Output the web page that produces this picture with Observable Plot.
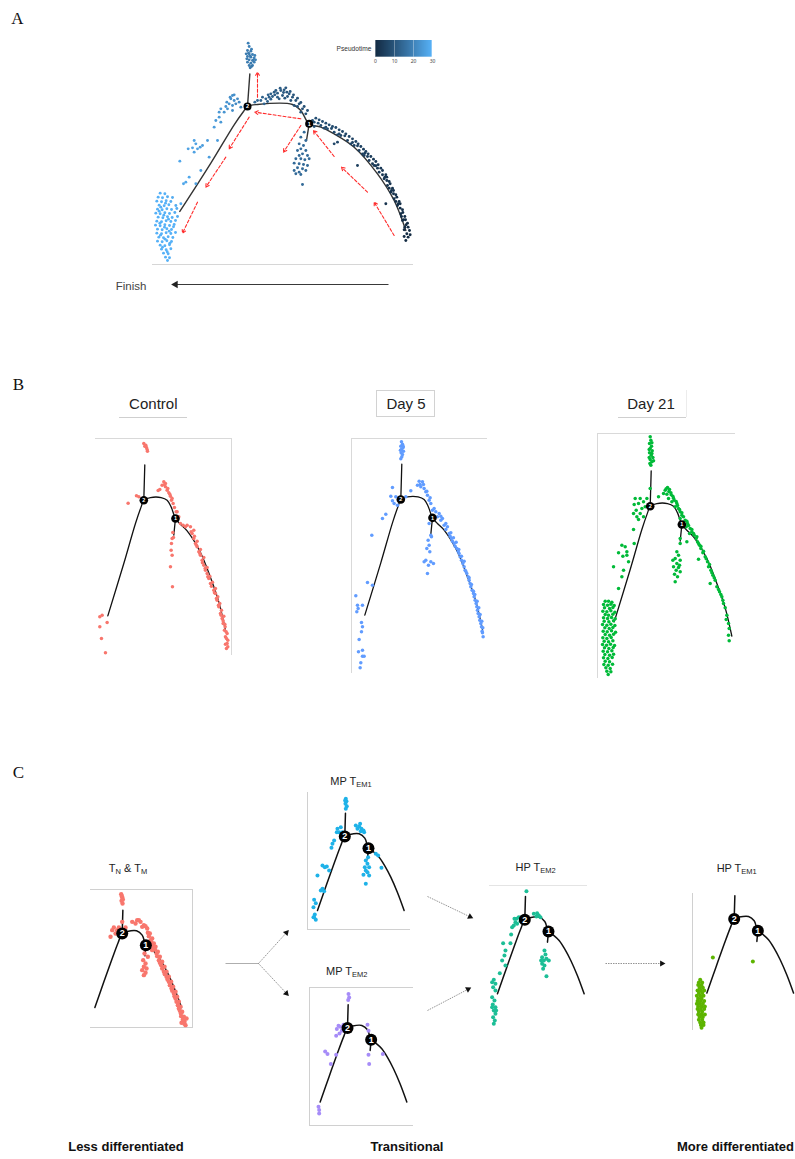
<!DOCTYPE html>
<html><head><meta charset="utf-8">
<script src="https://cdn.jsdelivr.net/npm/d3@7"></script>
<script src="https://cdn.jsdelivr.net/npm/@observablehq/plot@0.6"></script>
<style>
body{margin:0;background:#fff;}
#page{position:relative;width:795px;height:1159px;overflow:hidden;font-family:"Liberation Sans",Arial,sans-serif;color:#111;}
.abs{position:absolute;}
.letter{font-family:"Liberation Serif","Times New Roman",serif;font-size:17px;color:#111;}
.btitle{font-size:15px;color:#222;}
.ctitle{font-size:11px;color:#222;}
.ctitle sub{font-size:7.5px;vertical-align:-2px;line-height:0;}
.bottom{font-size:13px;font-weight:bold;color:#111;}
</style></head><body><div id="page"></div><script>
// ---------------- DATA ----------------
// Trajectory backbones (component units, node 2 at origin)
const trajectoryA = {
  main: [[-203,-315],[-110,-170],[-40,-55],[-12,-15],[0,0],[30,6],[135,6],[160,-12],[185,-52],[220,-62],[260,-82],[320,-122],[390,-202],[440,-282],[475,-372]],
  top: [[0,0],[7,98]],
  branch: [[185,-52],[177,-102]]
};
const nodesA = [{label:"2",x:0,y:0},{label:"1",x:185,y:-52}];
const trajectoryB = {
  main: [[-108,-347],[-60,-190],[-25,-70],[-8,-20],[0,0],[20,8],[52,8],[70,0],[82,-20],[95,-55],[110,-72],[130,-92],[170,-157],[200,-232],[225,-305],[245,-390]],
  top: [[0,0],[3,106]],
  branch: [[95,-55],[90,-105]]
};
const nodesB = [{label:"2",x:0,y:0},{label:"1",x:95,y:-55}];
const trajectoryC = {
  main: [[-82,-222],[-55,-145],[-30,-75],[-12,-27],[0,0],[15,6],[43,8],[60,-5],[71,-35],[85,-45],[103,-62],[120,-88],[138,-122],[158,-168],[178,-222]],
  top: [[0,0],[2,70]],
  branch: [[71,-35],[68,-67]]
};
const nodesC = [{label:"2",x:0,y:0},{label:"1",x:71,y:-35}];

// Panel A cells: [component1, component2, pseudotime]
const cellsA = [
  // upper branch tip
  [2,190,20],[5,180,20],[0,168,19],[10,166,19],[5,158,19],[15,156,20],[0,150,19],[10,148,19],[20,146,20],[5,140,19],[15,138,19],[0,133,19],[10,130,19],[20,133,20],[5,123,19],[15,123,19],[8,116,18],[-2,143,19],[22,153,20],[12,172,20],[3,160,19],[18,140,19],[8,152,19],[-4,158,19],[24,140,20],[12,120,18],
  // left branch scattered
  [-45,33,23],[-50,23,23],[-40,18,23],[-30,23,22],[-35,8,22],[-25,13,22],[-55,8,24],[-45,3,23],[-62,13,24],[-60,-7,24],[-80,-7,25],[-85,-17,25],[-70,-17,24],[-45,-12,23],[-20,-2,21],[-95,-42,25],[-85,-32,25],[-80,-47,25],[-100,-62,26],[-90,-102,26],[-160,-102,27],[-155,-112,27],[-165,-124,27],[-150,-127,27],[-142,-122,26],[-135,-117,26],[-178,-127,27],[-160,-137,27],[-115,-152,26],[-120,-102,26],[-203,-164,28],[-185,-227,28],[-192,-232,28],[-155,-232,27],[-175,-212,28],[-140,-192,27],[-200,-292,29],[-40,35,23],[-52,28,23],[-65,0,24],
  // bottom-left tip
  [-262,-260,30],[-248,-262,30],[-268,-272,30],[-255,-274,30],[-240,-271,29],[-225,-273,29],[-272,-284,30],[-258,-286,30],[-244,-283,30],[-230,-285,29],[-265,-296,30],[-250,-298,30],[-236,-295,30],[-215,-297,29],[-270,-308,30],[-256,-310,30],[-242,-307,30],[-228,-309,30],[-212,-306,29],[-275,-320,30],[-262,-322,30],[-248,-319,30],[-234,-321,30],[-218,-318,29],[-268,-332,30],[-254,-334,30],[-240,-331,30],[-226,-333,30],[-210,-330,29],[-272,-344,30],[-258,-346,30],[-244,-343,30],[-230,-345,30],[-216,-342,30],[-276,-356,30],[-262,-358,30],[-248,-355,30],[-234,-357,30],[-220,-354,30],[-270,-368,30],[-256,-370,30],[-242,-367,30],[-228,-369,30],[-272,-380,30],[-258,-382,30],[-244,-379,30],[-230,-381,30],[-216,-378,30],[-266,-392,30],[-252,-394,30],[-238,-391,30],[-224,-393,30],[-270,-404,30],[-256,-406,30],[-242,-403,30],[-228,-405,30],[-262,-416,30],[-248,-418,30],[-234,-415,30],[-258,-428,30],[-244,-430,30],[-230,-427,30],[-252,-440,30],[-238,-442,30],[-246,-452,30],[-234,-454,30],[-240,-462,30],
  [-265,-314,30],[-251,-326,30],[-237,-338,30],[-263,-350,30],[-249,-362,30],[-235,-374,30],[-261,-386,30],[-247,-398,30],[-233,-410,30],[-255,-422,30],[-241,-436,30],[-260,-302,30],[-246,-290,30],[-222,-361,30],
  // branch below node 1
  [170,-77,15],[160,-92,15],[175,-102,15],[155,-112,15],[168,-117,15],[160,-127,15],[150,-132,15],[175,-132,15],[165,-142,15],[155,-147,15],[180,-147,15],[145,-157,15],[160,-157,15],[172,-160,15],[185,-157,15],[140,-170,15],[155,-172,15],[168,-174,15],[180,-177,15],[150,-184,15],[165,-187,15],[140,-192,15],[155,-197,15],[145,-202,15],[160,-204,15],[165,-234,15],[175,-192,15],
  // between the two nodes
  [40,18,14],[55,23,13],[65,28,13],[70,38,13],[80,43,12],[90,40,12],[100,48,12],[110,50,11],[118,43,11],[125,38,11],[135,28,10],[145,18,10],[155,8,10],[165,-7,9],[175,-22,9],[105,33,11],[95,23,12],[130,18,10],[140,3,10],[160,-17,9],[115,56,11],[90,28,12],[50,8,14],[22,13,15],[75,30,12],[120,30,11],[150,0,10],[60,15,13],
  [30,18,14],[45,28,13],[62,35,13],[85,48,12],[98,55,12],[108,42,11],[128,45,11],[138,35,10],[150,25,10],[160,12,10],[170,0,9],[180,-12,9],[112,25,11],[82,35,12],[70,22,13],
  // root branch
  [200,-47,9],[220,-57,8.5],[240,-67,8],[260,-77,7.5],[280,-87,7],[300,-102,6.5],[320,-117,6],[335,-132,5.5],[350,-147,5],[365,-162,4.5],[380,-177,4],[395,-197,3.5],[410,-217,3],[420,-237,2.5],[430,-257,2],[440,-277,1.5],[450,-297,1.2],[460,-322,1],[465,-342,0.7],[472,-362,0.5],[478,-382,0.2],[475,-402,0],
  [205,-35,9],[225,-45,8.5],[245,-55,8],[265,-63,7.5],[285,-75,7],[305,-90,6.5],[325,-105,6],[340,-120,5.5],[355,-135,5],[370,-150,4.5],[385,-165,4],[400,-185,3.5],[415,-205,3],[425,-225,2.5],[435,-245,2],[445,-265,1.5],[455,-285,1.2],[465,-310,1],[472,-330,0.7],[480,-350,0.5],[486,-372,0.2],
  [230,-65,8],[270,-85,7],[310,-112,6],[345,-142,5],[375,-172,4],[405,-205,3],[425,-245,2],[445,-285,1.5],[462,-330,1],[470,-370,0.3],
  [212,-50,9],[252,-66,8],[292,-88,7],[330,-118,6],[360,-150,5],[390,-185,4],[418,-222,3],[438,-262,2],[458,-305,1],[476,-355,0.4],
  [195,-42,9.2],[215,-40,8.8],[235,-50,8.3],[255,-60,7.8],[275,-70,7.3],[295,-82,6.8],[315,-97,6.3],[332,-112,5.8],[348,-128,5.3],[362,-142,4.8],[378,-158,4.3],[392,-175,3.8],[405,-192,3.3],[418,-212,2.8],[428,-232,2.3],[438,-252,1.8],[448,-272,1.4],[458,-292,1.1],[466,-318,0.9],[474,-340,0.6],[482,-362,0.3],[482,-392,0.1],[470,-390,0.1],[488,-385,0],
  [235,-62,8.2],[275,-82,7.2],[315,-108,6.2],[352,-140,5.2],[385,-178,4.1],[412,-212,3.1],[432,-252,2.1],[452,-292,1.2],[468,-340,0.6],
  [260,-112,7],[270,-107,7],[330,-177,5],[415,-292,2],[200,-60,9]
];
// Panel A state-transition arrows
const transitionsA = [
  [30,28,30,103],[160,-37,22,-17],[5,-32,-55,-127],[-65,-152,-125,-242],[-150,-287,-195,-380],
  [160,-57,108,-137],[440,-387,380,-287],[360,-257,282,-182],[260,-150,198,-72]
];
const pseudotimeTicks = [0,10,20,30];

// Panel B cells: [component1, component2]
const controlCells = [
  [0,170],[6,165],[8,158],[11,147],[3,162],[10,152],
  [-22,13],[-47,-9],[-15,10],
  [60,55],[65,50],[55,45],[48,32],[43,29],[65,40],[70,30],[75,22],[80,12],[83,0],[88,-10],[92,-22],[97,-35],[62,46],[72,35],[85,5],[78,18],
  [87,-97],[85,-115],[83,-130],[82,-150],[85,-165],[80,-200],[86,-260],[89,-112],
  [100,-35],[110,-70],[130,-75],[140,-80],[145,-100],[150,-115],[155,-130],[160,-140],[165,-155],[170,-165],[175,-180],[180,-195],[185,-210],[190,-220],[195,-235],[200,-250],[210,-270],[215,-280],[220,-300],[225,-320],[230,-340],[235,-355],[238,-370],[242,-390],[245,-410],[250,-430],[248,-445],
  [118,-75],[150,-90],[160,-123],[170,-148],[180,-172],[190,-202],[198,-228],[206,-246],[215,-265],[222,-290],[228,-310],[233,-330],[240,-348],[244,-380],[250,-400],[252,-420],
  [105,-50],[125,-80],[142,-95],[152,-108],[158,-135],[168,-160],[176,-188],[184,-205],[192,-230],[203,-258],[212,-278],[218,-295],[224,-315],[232,-345],[238,-362],[243,-372],[247,-395],[248,-415],[252,-440],[245,-432],
  [-132,-350],[-125,-345],[-110,-367],[-132,-380],[-127,-415],[-115,-458]
];
const day5Cells = [
  [2,173],[5,166],[0,160],[7,156],[2,150],[8,145],[1,140],[5,135],[3,128],[0,122],[7,160],[-1,148],
  [-25,36],[-30,10],[-15,8],[-20,-12],[-10,-17],[-25,-4],[-45,-44],[-55,-57],[30,26],[15,8],
  [55,55],[65,53],[50,43],[60,38],[70,33],[75,23],[80,13],[85,-2],[90,-12],[100,-27],[105,-37],[110,-52],[120,-62],[130,-77],[135,-90],[145,-102],[152,-117],[160,-132],[168,-147],[175,-162],[182,-182],[190,-202],[198,-222],[205,-242],[210,-262],[218,-282],[223,-302],[228,-322],[232,-342],[237,-362],[242,-382],[247,-412],
  [95,-32],[115,-42],[125,-57],[140,-82],[148,-110],[155,-125],[163,-140],[172,-155],[178,-172],[186,-192],[193,-212],[202,-232],[208,-252],[214,-272],[220,-292],[226,-312],[230,-332],[235,-352],[240,-372],[244,-395],[58,45],[68,45],[78,25],[88,5],
  [120,-50],[135,-72],[150,-100],[158,-115],[166,-128],[174,-150],[182,-170],[190,-185],[195,-215],[205,-235],[212,-255],[218,-275],[222,-285],[229,-305],[234,-325],[238,-345],[243,-365],[246,-385],[245,-400],
  [90,-107],[82,-122],[85,-137],[78,-147],[87,-157],[75,-182],[90,-187],[83,-197],[98,-192],[80,-222],[70,-187],[92,-112],[85,-72],
  [-87,-107],[-100,-249],[-85,-257],[-135,-289],[-130,-317],[-128,-327],[-115,-317],[-132,-337],[-118,-369],[-115,-382],[-118,-397],[-125,-420],[-127,-457],[-115,-470],[-110,-470],[-120,-490],[-122,-505],[-115,-452]
];
const day21Cells = [
  [0,208],[2,198],[-2,188],[4,180],[0,173],[6,166],[-2,160],[3,153],[8,146],[0,140],[5,133],[-1,128],[2,123],[5,158],[-3,146],[10,136],[5,190],[-3,170],
  [-45,23],[-30,23],[-35,8],[-20,13],[-42,-12],[-30,-22],[-40,-32],[-25,-7],[-15,-2],[-50,-22],[-35,-40],[-10,23],[0,53],[25,28],[-20,-32],[-48,5],
  [45,48],[52,56],[58,50],[40,38],[50,36],[62,40],[68,30],[55,23],[72,18],[65,13],[80,8],[75,-2],[85,-7],[90,-17],[95,-27],[90,-37],[105,-42],[112,-52],[108,-62],[120,-67],[125,-77],[118,-82],[132,-87],[138,-97],[142,-107],[148,-117],[152,-127],[145,-159],[158,-140],[165,-152],[172,-167],[175,-182],[182,-192],[188,-207],[180,-232],[195,-222],[200,-242],[208,-257],[215,-272],[220,-292],[230,-327],[235,-352],[237,-367],[235,-387],[237,-404],[110,-107],[90,-97],
  [48,52],[56,44],[63,34],[70,24],[78,14],[82,2],[88,-10],[95,-20],[100,-32],[110,-45],[115,-58],[125,-70],[130,-82],[140,-92],[145,-112],[152,-120],[160,-135],[168,-158],[178,-175],[185,-200],[192,-215],[205,-250],[212,-265],[218,-282],[225,-305],[228,-340],
  [90,-112],[80,-137],[85,-147],[75,-157],[90,-162],[80,-172],[70,-182],[85,-184],[78,-192],[90,-197],[73,-204],[82,-212],[75,-227],[88,-177],[68,-162],
  [-50,-70],[-48,-112],[-85,-117],[-75,-122],[-70,-137],[-95,-140],[-82,-150],[-65,-167],[-110,-182],[-80,-192],[-95,-247],[-85,-212],[-70,-147],
  [-135,-285],[-125,-285],[-115,-288],[-140,-295],[-128,-297],[-118,-294],[-108,-298],[-137,-305],[-122,-307],[-112,-304],[-142,-315],[-130,-317],[-118,-314],[-106,-318],[-135,-325],[-125,-327],[-112,-324],[-140,-335],[-128,-337],[-116,-334],[-105,-338],[-138,-345],[-124,-347],[-110,-344],[-143,-355],[-130,-357],[-118,-354],[-106,-358],[-136,-365],[-123,-367],[-112,-364],[-141,-375],[-129,-377],[-116,-374],[-104,-378],[-135,-385],[-122,-387],[-110,-384],[-142,-395],[-130,-397],[-117,-394],[-138,-405],[-125,-407],[-112,-404],[-143,-415],[-131,-417],[-119,-414],[-107,-418],[-137,-425],[-124,-427],[-111,-424],[-141,-435],[-128,-437],[-115,-434],[-136,-445],[-122,-447],[-110,-444],[-140,-455],[-127,-457],[-114,-454],[-135,-465],[-122,-467],[-139,-475],[-126,-477],[-113,-474],[-133,-485],[-120,-487],[-130,-495],[-118,-497],[-126,-505]
];

// Panel C cells
const tnTmCells = [
  [-3,118],[0,108],[-2,98],[1,90],[-1,112],[2,102],
  [-25,18],[-15,10],[0,35],[-20,0],[-35,-10],[-10,18],[10,18],[-30,10],
  [30,35],[45,40],[55,35],[65,25],[75,15],[83,0],[90,-15],[95,-30],[100,-40],[107,-55],[113,-70],[120,-85],[127,-100],[133,-115],[140,-130],[147,-145],[153,-160],[160,-175],[165,-190],[170,-205],[175,-220],[180,-235],[185,-250],[187,-265],[190,-275],
  [40,30],[60,20],[77,2],[85,-20],[93,-40],[103,-60],[110,-80],[117,-95],[125,-115],[133,-130],[140,-145],[148,-165],[155,-180],[160,-195],[167,-215],[173,-232],[177,-248],[183,-262],[178,-268],[193,-255],
  [50,40],[70,22],[80,-8],[88,-28],[98,-48],[105,-68],[113,-88],[120,-105],[128,-122],[136,-138],[143,-155],[150,-172],[157,-188],[163,-205],[170,-225],[176,-240],[182,-258],[186,-270],
  [67,-60],[63,-80],[70,-90],[65,-100],[73,-105],[60,-110],[70,-118],[65,-125],[77,-70],[90,-50],[77,-40]
];
const mpTem1Cells = [
  [3,113],[5,106],[2,98],[6,91],[3,83],[1,108],
  [-22,23],[-17,13],[-12,28],[-7,13],[-24,13],
  [33,33],[43,30],[50,23],[56,18],[48,16],[38,23],[46,38],[58,13],
  [93,-52],[100,-57],[110,-94],
  [63,-72],[68,-82],[60,-92],[73,-92],[63,-102],[68,-107],[56,-115],[73,-117],[63,-142],[70,-62],
  [-32,-12],[-40,-34],[-37,-22],[-67,-87],[-60,-92],[-54,-90],[-47,-102],[-82,-117],[-72,-162],[-62,-164],[-67,-157],[-92,-190],[-87,-200],[-94,-212],[-90,-234],[-92,-242],[-87,-250],[-94,-242]
];
const mpTem2Cells = [
  [3,102],[5,92],[2,84],
  [-32,-3],[-22,4],[-17,-8],[-34,-23],[-24,-16],[-12,10],[-27,7],
  [60,10],[63,-8],[73,-26],
  [63,-80],[65,-108],
  [106,-78],
  [-67,-70],[-60,-78],[-34,-80],[-50,-108],[-87,-236],[-85,-246],[-85,-256]
];
const hpTem2Cells = [
  [5,86],
  [-25,3],[-18,8],[-28,-7],[-33,-17],[-38,-22],[-23,-12],[-13,-4],[-31,3],
  [27,18],[37,20],[42,13],[35,10],[47,8],
  [59,-92],[62,-104],[52,-112],[57,-122],[65,-117],[52,-132],[59,-137],[55,-147],[72,-122],[49,-122],[65,-169],
  [-41,-44],[-43,-70],[-65,-70],[-58,-92],[-61,-107],[-68,-122],[-58,-137],[-75,-160],[-93,-180],[-98,-187],[-88,-192],[-95,-202],[-88,-212],[-98,-232],[-91,-242],[-96,-254],[-88,-262],[-93,-272],[-88,-282],[-95,-292],[-90,-302],[-93,-312],[-86,-272],[-98,-262]
];
const hpTem1Cells = [
  [-64,-115],[56,-127],
  [-102,-182],[-106,-190],[-96,-190],[-108,-198],[-98,-198],[-104,-206],[-94,-206],[-110,-214],[-100,-214],[-90,-214],[-106,-222],[-96,-222],[-112,-230],[-102,-230],[-92,-230],[-108,-238],[-98,-238],[-110,-246],[-100,-246],[-90,-246],[-112,-254],[-104,-254],[-94,-254],[-108,-262],[-98,-262],[-88,-262],[-110,-270],[-100,-270],[-90,-270],[-106,-278],[-96,-278],[-108,-286],[-98,-286],[-88,-286],[-104,-294],[-94,-294],[-106,-302],[-96,-302],[-102,-310],[-92,-310],[-100,-318],[-92,-318],[-98,-326]
];

const groupColors = {
  Control: "#F8766D", "Day 5": "#619CFF", "Day 21": "#00BA38",
  TnTm: "#F8766D", MpTem1: "#1EB2E8", MpTem2: "#A68CF8", HpTem2: "#1CBE96", HpTem1: "#5DB400"
};

// ---------------- LAYOUT ----------------
const layout = {
  A:      {left:151.7, top:30,    right:413.3, bottom:265,    nx:246.7, ny:106},
  Control:{left:95,    top:438.3, right:231.7, bottom:655,    nx:143.3, ny:500},
  Day5:   {left:350.7, top:438.3, right:486.7, bottom:673,    nx:400,   ny:499.3},
  Day21:  {left:597.3, top:433.3, right:735,   bottom:678,    nx:650,   ny:506},
  TnTm:   {left:90,    top:889.3, right:192.7, bottom:1028.3, nx:121.7, ny:933.3},
  MpTem1: {left:306.7, top:792,   right:410,   bottom:930,    nx:344,   ny:836},
  MpTem2: {left:309.3, top:986.7, right:413,   bottom:1126,   nx:347.3, ny:1027.3},
  HpTem2: {left:489,   top:885,   right:587,   bottom:1030,   nx:524.3, ny:919.3},
  HpTem1: {left:692.3, top:892.7, right:795,   bottom:1030,   nx:734,   ny:918.3}
};

const page = document.getElementById("page");
function addText(html, cx, cy, cls, style) {
  const d = document.createElement("div");
  d.className = "abs " + (cls || "");
  d.innerHTML = html;
  Object.assign(d.style, {left: cx + "px", top: cy + "px", transform: "translate(-50%,-50%)", whiteSpace: "nowrap", lineHeight: "1"}, style || {});
  page.appendChild(d);
  return d;
}
function addBox(l, t, w, h, style) {
  const d = document.createElement("div");
  d.className = "abs";
  Object.assign(d.style, {left: l + "px", top: t + "px", width: w + "px", height: h + "px", boxSizing: "border-box"}, style || {});
  page.appendChild(d);
  return d;
}
function toPath(traj) {
  const out = [];
  for (const [branch, pts] of Object.entries(traj)) for (const [x, y] of pts) out.push({branch, x, y});
  return out;
}
const pseudoColor = {type: "linear", domain: [0, 30], range: ["#132B43", "#56B1F7"], interpolate: d3.interpolateLab};

function drawPanel(L, cells, fill, traj, nodes, o) {
  const w = L.right - L.left, h = L.bottom - L.top;
  if (o.border) addBox(L.left, L.top, w, h, o.border);
  const el = Plot.plot({
    width: w, height: h, margin: 0,
    x: {domain: [(L.left - L.nx) * 3, (L.right - L.nx) * 3], axis: null},
    y: {domain: [(L.ny - L.bottom) * 3, (L.ny - L.top) * 3], axis: null},
    color: pseudoColor,
    style: {background: "transparent", overflow: "visible"},
    marks: [
      Plot.line(toPath(traj), {x: "x", y: "y", z: "branch", curve: "catmull-rom", stroke: o.lineColor || "#111", strokeWidth: o.lineWidth || 1.3}),
      Plot.dot(cells, {x: d => d[0], y: d => d[1], r: o.r, fill: fill, stroke: "none"}),
      Plot.dot(nodes, {x: "x", y: "y", r: o.nodeR, fill: "#000"}),
      Plot.text(nodes, {x: "x", y: "y", text: "label", fill: "#fff", fontSize: o.nodeFont, fontWeight: "bold", fontFamily: "Liberation Sans, Arial, sans-serif"})
    ]
  });
  const holder = addBox(L.left, L.top, w, h, {});
  holder.appendChild(el);
}

// ---------------- PANEL A ----------------
addText("A", 17.5, 18, "letter");
drawPanel(layout.A, cellsA, d => d[2], trajectoryA, nodesA, {
  r: 1.45, nodeR: 4, nodeFont: 5.5, lineColor: "#333", lineWidth: 1.4,
  border: {borderBottom: "1px solid #d6d6d6"}
});
// red arrows overlay in A's coordinate system
(function(){
  const L = layout.A, w = L.right - L.left, h = L.bottom - L.top;
  const el = Plot.plot({
    width: w, height: h, margin: 0,
    x: {domain: [(L.left - L.nx) * 3, (L.right - L.nx) * 3], axis: null},
    y: {domain: [(L.ny - L.bottom) * 3, (L.ny - L.top) * 3], axis: null},
    style: {background: "transparent", overflow: "visible"},
    marks: [Plot.arrow(transitionsA, {x1: d => d[0], y1: d => d[1], x2: d => d[2], y2: d => d[3], stroke: "#FF2B2B", strokeWidth: 1.1, strokeDasharray: "3,2", headLength: 5})]
  });
  addBox(L.left, L.top, w, h, {}).appendChild(el);
})();
// legend
addText("Pseudotime", 354, 48.5, "", {fontSize: "6.6px", color: "#333"});
(function(){
  const lg = Plot.legend({color: pseudoColor, label: null, width: 68.7, height: 29, marginTop: 0, marginLeft: 6, marginRight: 6, marginBottom: 12.3, ticks: pseudotimeTicks, tickSize: 0});
  lg.querySelectorAll("text").forEach(t => { t.style.fontSize = "5px"; t.style.fill = "#444"; });
  lg.querySelectorAll("line").forEach(l => { l.setAttribute("stroke", "#ffffff"); l.setAttribute("stroke-opacity", "0.35"); });
  lg.style.background = "transparent";
  const holder = addBox(369, 40, 68.7, 29, {});
  holder.appendChild(lg);
})();
addText("Finish", 131, 287, "", {fontSize: "11.5px", color: "#444"});

// ---------------- PANEL B ----------------
addText("B", 18.5, 384, "letter");
addText("Control", 153.3, 403.3, "btitle");
addBox(119.3, 417, 67.4, 1, {borderTop: "1px solid #cfcfcf"});
addBox(376, 390, 59.3, 26.7, {border: "1px solid #d2d2d2"});
addText("Day 5", 406, 403.3, "btitle");
addText("Day 21", 651, 403.3, "btitle");
addBox(618.3, 417, 67.7, 1, {borderTop: "1px solid #cfcfcf"});
addBox(685.5, 390, 1, 27, {borderLeft: "1px solid #ececec"});
const bOpts = {r: 1.75, nodeR: 4.3, nodeFont: 5.5, lineWidth: 1.3};
drawPanel(layout.Control, controlCells, groupColors.Control, trajectoryB, nodesB, {...bOpts, border: {borderTop: "1px solid #d9d9d9", borderRight: "1px solid #d9d9d9"}});
drawPanel(layout.Day5, day5Cells, groupColors["Day 5"], trajectoryB, nodesB, {...bOpts, border: {borderTop: "1px solid #d9d9d9", borderLeft: "1px solid #d9d9d9"}});
drawPanel(layout.Day21, day21Cells, groupColors["Day 21"], trajectoryB, nodesB, {...bOpts, border: {borderTop: "1px solid #d9d9d9", borderLeft: "1px solid #d9d9d9"}});

// ---------------- PANEL C ----------------
addText("C", 18.5, 772, "letter");
const cOpts = {r: 2, nodeR: 6, nodeFont: 9, lineWidth: 1.5};
drawPanel(layout.TnTm, tnTmCells, groupColors.TnTm, trajectoryC, nodesC, {...cOpts, r: 2.2, border: {borderTop: "1px solid #d0d0d0", borderRight: "1px solid #d0d0d0", borderBottom: "1px solid #d0d0d0"}});
drawPanel(layout.MpTem1, mpTem1Cells, groupColors.MpTem1, trajectoryC, nodesC, {...cOpts, border: {borderLeft: "1px solid #d0d0d0", borderBottom: "1px solid #d0d0d0"}});
drawPanel(layout.MpTem2, mpTem2Cells, groupColors.MpTem2, trajectoryC, nodesC, {...cOpts, border: {borderTop: "1px solid #d0d0d0", borderLeft: "1px solid #d0d0d0", borderBottom: "1px solid #d0d0d0"}});
drawPanel(layout.HpTem2, hpTem2Cells, groupColors.HpTem2, trajectoryC, nodesC, {...cOpts, border: {borderTop: "1px solid #e4e4e4"}});
drawPanel(layout.HpTem1, hpTem1Cells, groupColors.HpTem1, trajectoryC, nodesC, {...cOpts, border: {borderLeft: "1px solid #d0d0d0"}});
addText("T<sub>N</sub> &amp; T<sub>M</sub>", 128, 868.3, "ctitle");
addText("MP T<sub>EM1</sub>", 351, 780.7, "ctitle");
addText("MP T<sub>EM2</sub>", 346.7, 970.7, "ctitle");
addText("HP T<sub>EM2</sub>", 535.5, 867.3, "ctitle");
addText("HP T<sub>EM1</sub>", 736.7, 868.3, "ctitle");
addText("Less differentiated", 126, 1146, "bottom");
addText("Transitional", 407, 1146, "bottom");
addText("More differentiated", 735.5, 1146, "bottom");

// ---------------- FLOW ARROWS (page annotation layer) ----------------
const flowArrows = [
  {x1: 258, y1: 963, x2: 287, y2: 931},
  {x1: 258, y1: 963, x2: 287, y2: 994},
  {x1: 427, y1: 896, x2: 471, y2: 917},
  {x1: 427, y1: 1010, x2: 469, y2: 988},
  {x1: 605, y1: 963, x2: 663, y2: 963}
];
const flowStem = [{x1: 225, y1: 963, x2: 258, y2: 963}];
const finishArrow = [{x1: 388, y1: 284, x2: 173, y2: 284}];
const headAngle = d => Math.atan2(d.x2 - d.x1, -(d.y2 - d.y1)) * 180 / Math.PI;
const headX = k => d => d.x2 - k * (d.x2 - d.x1) / Math.hypot(d.x2 - d.x1, d.y2 - d.y1);
const headY = k => d => d.y2 - k * (d.y2 - d.y1) / Math.hypot(d.x2 - d.x1, d.y2 - d.y1);
(function(){
  const el = Plot.plot({
    width: 795, height: 1159, margin: 0,
    x: {domain: [0, 795], range: [0, 795], axis: null},
    y: {domain: [0, 1159], range: [0, 1159], axis: null},
    style: {background: "transparent", overflow: "visible"},
    marks: [
      Plot.link(flowStem, {x1: "x1", y1: "y1", x2: "x2", y2: "y2", stroke: "#999", strokeWidth: 0.8}),
      Plot.link(flowArrows, {x1: "x1", y1: "y1", x2: headX(2), y2: headY(2), stroke: "#666", strokeWidth: 0.7, strokeDasharray: "1.5,1"}),
      Plot.dot(flowArrows, {x: headX(1.6), y: headY(1.6), symbol: "triangle", r: 2.3, fill: "#111", stroke: "none", rotate: headAngle}),
      Plot.link(finishArrow, {x1: "x1", y1: "y1", x2: headX(3), y2: headY(3), stroke: "#222", strokeWidth: 0.9}),
      Plot.dot(finishArrow, {x: headX(2), y: headY(2), symbol: "triangle", r: 2.8, fill: "#222", stroke: "none", rotate: headAngle})
    ]
  });
  const holder = addBox(0, 0, 795, 1159, {pointerEvents: "none"});
  holder.appendChild(el);
})();
</script></body></html>
